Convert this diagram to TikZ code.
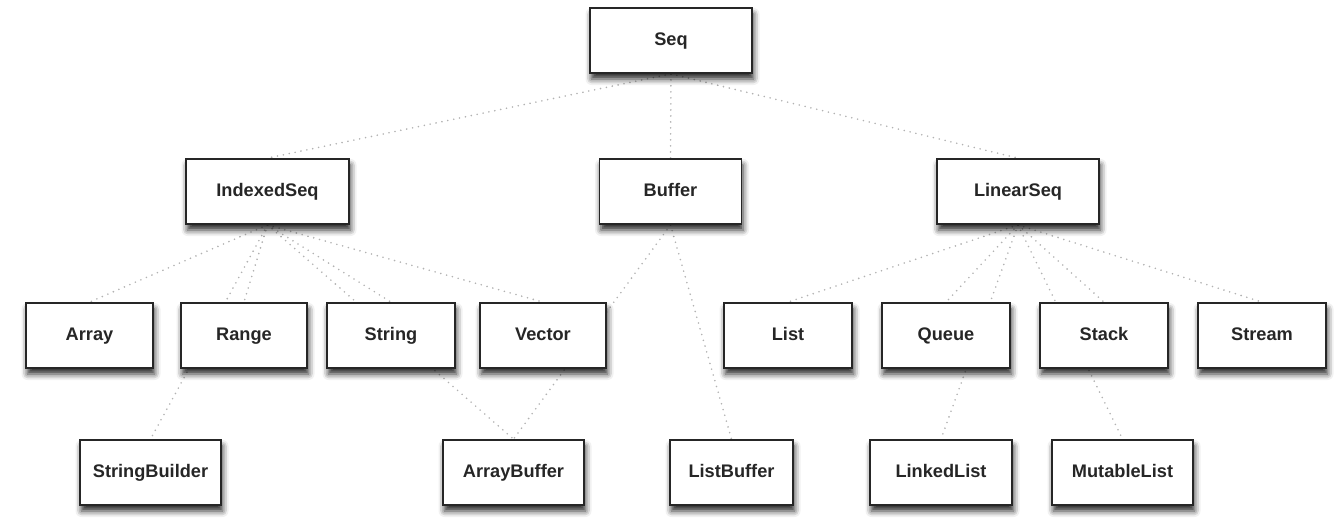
\documentclass[tikz,border=0pt]{standalone}
\usepackage{fontspec}
\setmainfont{Liberation Sans}
\usetikzlibrary{shadows.blur}
\pgfdeclarelayer{bg}
\pgfsetlayers{bg,main}
\begin{document}
\begin{tikzpicture}[x=1pt,y=-1pt,
  box/.style={draw=black!85, line width=1.8pt, fill=white, inner sep=0pt,
    minimum height=65pt, text height=13pt, text depth=3.8pt,
    font=\fontsize{18.2}{21}\selectfont\bfseries, text=black!85,
    blur shadow={shadow xshift=1.5pt, shadow yshift=-6pt, shadow blur radius=6pt, shadow opacity=85}},
  conn/.style={draw=black!30, line width=1.8pt, line cap=round, dash pattern=on 0pt off 6pt}]
\useasboundingbox (0,0) rectangle (1343,520);
\begin{scope}[every node/.append style={box}]
\node[minimum width=162pt] (seq) at (671,40.5) {Seq};
\node[minimum width=163pt] (iseq) at (267.5,191.5) {IndexedSeq};
\node[minimum width=142pt] (buf) at (670.5,191.5) {Buffer};
\node[minimum width=162pt] (lseq) at (1018,191.5) {LinearSeq};
\node[minimum width=127pt] (arr) at (89.5,335.5) {Array};
\node[minimum width=126pt] (rng) at (244,335.5) {Range};
\node[minimum width=128pt] (str) at (391,335.5) {String};
\node[minimum width=126pt] (vec) at (543,335.5) {Vector};
\node[minimum width=128pt] (lst) at (788,335.5) {List};
\node[minimum width=128pt] (que) at (946,335.5) {Queue};
\node[minimum width=128pt] (stk) at (1104,335.5) {Stack};
\node[minimum width=128pt] (stm) at (1262,335.5) {Stream};
\node[minimum width=141pt] (sb) at (150.5,472.5) {StringBuilder};
\node[minimum width=141pt] (ab) at (513.5,472.5) {ArrayBuffer};
\node[minimum width=123pt] (lb) at (731.5,472.5) {ListBuffer};
\node[minimum width=142pt] (ll) at (941,472.5) {LinkedList};
\node[minimum width=141pt] (ml) at (1122.5,472.5) {MutableList};
\end{scope}
\begin{pgfonlayer}{bg}
\foreach \c in {iseq,buf,lseq} \draw[conn] (seq.south) -- (\c.north);
\foreach \c in {arr,rng,str,vec,sb,ab} \draw[conn] (iseq.south) -- (\c.north);
\foreach \c in {ab,lb} \draw[conn] (buf.south) -- (\c.north);
\foreach \c in {lst,que,stk,stm,ll,ml} \draw[conn] (lseq.south) -- (\c.north);
\end{pgfonlayer}
\end{tikzpicture}
\end{document}
